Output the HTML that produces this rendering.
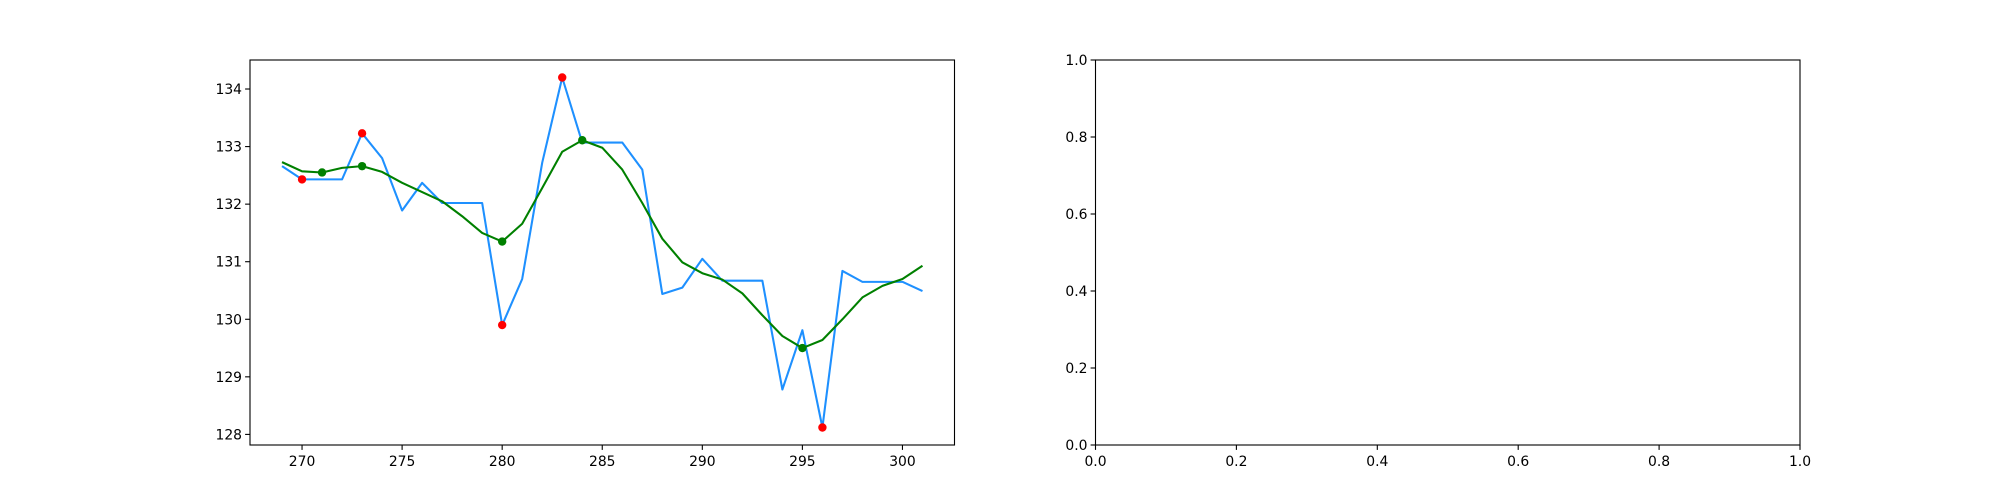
<!DOCTYPE html>
<html><head><meta charset="utf-8"><style>
html,body{margin:0;padding:0;background:#fff;}
svg{display:block;font-family:"DejaVu Sans","Liberation Sans",sans-serif;}
</style></head><body>
<svg id="fig" width="2000" height="500" viewBox="0 0 2000 500" xmlns="http://www.w3.org/2000/svg">
<rect width="2000" height="500" fill="#fff"/>
<g id="left"></g>
<g id="right"></g>
</svg>
<script>
const xs = [269,270,271,272,273,274,275,276,277,278,279,280,281,282,283,284,285,286,287,288,289,290,291,292,293,294,295,296,297,298,299,300,301];
const priceValues = [132.66,132.43,132.43,132.43,133.23,132.80,131.89,132.37,132.02,132.02,132.02,129.90,130.70,132.72,134.20,133.07,133.07,133.07,132.60,130.44,130.55,131.05,130.67,130.67,130.67,128.78,129.81,128.12,130.84,130.65,130.65,130.65,130.49];
const smoothValues = [132.73,132.57,132.55,132.63,132.66,132.56,132.37,132.21,132.05,131.79,131.50,131.35,131.66,132.28,132.91,133.11,132.98,132.60,132.02,131.40,130.99,130.80,130.69,130.45,130.07,129.71,129.50,129.64,130.00,130.38,130.58,130.70,130.93];
const redIdx = [1,4,11,14,27];
const greenIdx = [2,4,11,15,26];
const xTicks = [270,275,280,285,290,295,300];
const yTicks = [128,129,130,131,132,133,134];
const rTicks = [0,0.2,0.4,0.6,0.8,1.0];

const NS="http://www.w3.org/2000/svg";
function mk(tag,attrs,parent){const e=document.createElementNS(NS,tag);for(const k in attrs)e.setAttribute(k,attrs[k]);parent.appendChild(e);return e;}

const L={l:250,r:954.5,t:60,b:445};
const xmin=Math.min(...xs),xmax=Math.max(...xs),xm=(xmax-xmin)*0.05;
const allY=priceValues.concat(smoothValues);
const ymin=Math.min(...allY),ymax=Math.max(...allY),ym=(ymax-ymin)*0.05;
const X=v=>L.l+(v-(xmin-xm))/((xmax+xm)-(xmin-xm))*(L.r-L.l);
const Y=v=>L.b-(v-(ymin-ym))/((ymax+ym)-(ymin-ym))*(L.b-L.t);
const g=document.getElementById('left');

let line=mk('polyline',{points:xs.map((x,i)=>X(x)+','+Y(priceValues[i])).join(' '),fill:'none',stroke:'#1e90ff','stroke-width':2.08,'stroke-linejoin':'round'},g);


let sl=mk('polyline',{points:xs.map((x,i)=>X(x)+','+Y(smoothValues[i])).join(' '),fill:'none',stroke:'#008000','stroke-width':2.08,'stroke-linejoin':'round'},g);


redIdx.forEach(i=>{const c=mk('circle',{cx:X(xs[i]),cy:Y(priceValues[i]),r:4.2,fill:'#ff0000'},g);

});
greenIdx.forEach(i=>{const c=mk('circle',{cx:X(xs[i]),cy:Y(smoothValues[i]),r:4.2,fill:'#008000'},g);

});

function frame(par,A){const f=mk('rect',{x:A.l,y:A.t,width:A.r-A.l,height:A.b-A.t,fill:'none',stroke:'#000','stroke-width':1.1},par);

}
frame(g,L);
xTicks.forEach(v=>{const x=X(v);mk('line',{x1:x,x2:x,y1:L.b,y2:L.b+4.9,stroke:'#000','stroke-width':1.1},g);
const t=mk('text',{x:x,y:L.b+21,'text-anchor':'middle','font-size':13.9,fill:'#000'},g);t.textContent=v;

});
yTicks.forEach(v=>{const y=Y(v);mk('line',{x1:L.l,x2:L.l-4.9,y1:y,y2:y,stroke:'#000','stroke-width':1.1},g);
const t=mk('text',{x:L.l-8,y:y+5,'text-anchor':'end','font-size':13.9,fill:'#000'},g);t.textContent=v;

});

const R={l:1095.5,r:1800,t:60,b:445};
const gr=document.getElementById('right');
frame(gr,R);
const RX=v=>R.l+v*(R.r-R.l), RY=v=>R.b-v*(R.b-R.t);
rTicks.forEach(v=>{const x=RX(v);mk('line',{x1:x,x2:x,y1:R.b,y2:R.b+4.9,stroke:'#000','stroke-width':1.1},gr);
const t=mk('text',{x:x,y:R.b+21,'text-anchor':'middle','font-size':13.9,fill:'#000'},gr);t.textContent=v.toFixed(1);


const y=RY(v);mk('line',{x1:R.l,x2:R.l-4.9,y1:y,y2:y,stroke:'#000','stroke-width':1.1},gr);
const t2=mk('text',{x:R.l-8,y:y+5,'text-anchor':'end','font-size':13.9,fill:'#000'},gr);t2.textContent=v.toFixed(1);

});
</script>
</body></html>
